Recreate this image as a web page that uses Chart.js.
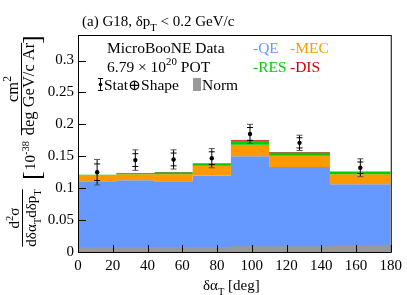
<!DOCTYPE html>
<html>
<head>
<meta charset="utf-8">
<script src="https://cdn.jsdelivr.net/npm/chart.js@4.4.0/dist/chart.umd.min.js"></script>
<style>
  body { margin: 0; background: #fff; }
  canvas { display: block; }
</style>
</head>
<body>
<canvas id="myChart" width="407" height="295"></canvas>
<script>
// bin edges in deg, and the stacked GENIE G18 components per bin
const binEdges = [0, 22, 44, 66, 88, 110, 145, 180];
const qe  = [0.111, 0.1125, 0.111, 0.120, 0.150, 0.133, 0.106];
const mec = [0.009, 0.0095, 0.011, 0.015, 0.018, 0.018, 0.016];
const res = [0.001, 0.0014, 0.003, 0.0036, 0.0054, 0.005, 0.004];
const dis = [0.0002, 0.0003, 0.0003, 0.0005, 0.0016, 0.0005, 0.0003];
const normErr = [0.0075, 0.0075, 0.0078, 0.008, 0.009, 0.009, 0.0105];

// MicroBooNE data points
const dataX = [11, 33, 55, 77, 99, 127.5, 162.5];
const dataY = [0.125, 0.144, 0.145, 0.147, 0.185, 0.171, 0.132];
const errTot = [0.020, 0.016, 0.015, 0.015, 0.015, 0.012, 0.014];
const errStat = [0.013, 0.010, 0.010, 0.010, 0.010, 0.008, 0.009];

const xTicks = [0, 20, 40, 60, 80, 100, 120, 140, 160, 180];
const yTicks = [0, 0.05, 0.1, 0.15, 0.2, 0.25, 0.3];

const FONT = "'Liberation Serif', 'DejaVu Serif', serif";
const BLUE = '#6699ff', ORANGE = '#ff9900', GREEN = '#00cc00', RED = '#cc0000', GREY = '#999999';

// cumulative stack
const cum = [];
let run = qe.slice();
cum.push(run.slice());
[mec, res, dis].forEach(a => { run = run.map((v, i) => v + a[i]); cum.push(run.slice()); });

function steps(vals) {
    return binEdges.map((e, i) => ({ x: e, y: vals[Math.min(i, vals.length - 1)] }));
}

function histSet(vals, color, fill, order) {
    return {
        type: 'line', data: steps(vals), stepped: 'before',
        borderColor: 'rgba(0,0,0,0)', borderWidth: 0, pointRadius: 0,
        backgroundColor: color, fill: fill, order: order
    };
}

// text helpers, runs are {t, s} with s = 'sub' / 'sup' / undefined
function runsWidth(ctx, runs, size) {
    let w = 0;
    runs.forEach(r => {
        ctx.font = (r.s ? size * 0.7 : size) + 'px ' + FONT;
        w += ctx.measureText(r.t).width;
    });
    return w;
}
function drawRuns(ctx, runs, x, y, size, color) {
    ctx.fillStyle = color || '#000';
    ctx.textAlign = 'left';
    ctx.textBaseline = 'alphabetic';
    runs.forEach(r => {
        ctx.font = (r.s ? size * 0.7 : size) + 'px ' + FONT;
        const dy = r.s === 'sub' ? size * 0.3 : r.s === 'sup' ? -size * 0.42 : 0;
        ctx.fillText(r.t, x, y + dy);
        x += ctx.measureText(r.t).width;
    });
}

const decor = {
    id: 'decor',
    afterDatasetsDraw(chart) {
        const ctx = chart.ctx, xs = chart.scales.x, ys = chart.scales.y, a = chart.chartArea;
        ctx.save();
        // error bars
        dataX.forEach((x, i) => {
            const px = xs.getPixelForValue(x);
            const yt = ys.getPixelForValue(dataY[i] + errTot[i]);
            const yb = ys.getPixelForValue(dataY[i] - errTot[i]);
            const st = ys.getPixelForValue(dataY[i] + errStat[i]);
            const sb = ys.getPixelForValue(dataY[i] - errStat[i]);
            ctx.strokeStyle = '#000';
            ctx.lineWidth = 1;
            ctx.beginPath();
            ctx.moveTo(px, yt); ctx.lineTo(px, yb);
            ctx.moveTo(px - 3, st); ctx.lineTo(px + 3, st);
            ctx.moveTo(px - 3, sb); ctx.lineTo(px + 3, sb);
            ctx.stroke();
            ctx.strokeStyle = '#555';
            ctx.beginPath();
            ctx.moveTo(px - 3, yt); ctx.lineTo(px + 3, yt);
            ctx.moveTo(px - 3, yb); ctx.lineTo(px + 3, yb);
            ctx.stroke();
        });
        // inner ticks and frame
        ctx.strokeStyle = '#000';
        ctx.lineWidth = 1;
        ctx.beginPath();
        xTicks.forEach(t => {
            const px = Math.round(xs.getPixelForValue(t)) + 0.5;
            ctx.moveTo(px, a.bottom); ctx.lineTo(px, a.bottom - 7);
        });
        yTicks.forEach(t => {
            const py = Math.round(ys.getPixelForValue(t)) + 0.5;
            ctx.moveTo(a.left, py); ctx.lineTo(a.left + 8, py);
        });
        ctx.stroke();
        ctx.strokeRect(a.left + 0.5, a.top + 0.5, a.right - a.left, a.bottom - a.top);
        ctx.restore();
    },
    afterDraw(chart) {
        const ctx = chart.ctx;
        ctx.save();
        // title
        drawRuns(ctx, [{ t: '(a) G18, δp' }, { t: 'T', s: 'sub' }, { t: ' < 0.2 GeV/c' }], 82, 26, 15);
        // x title
        drawRuns(ctx, [{ t: 'δα' }, { t: 'T', s: 'sub' }, { t: ' [deg]' }], 203, 290, 15);
        // legend block
        const L = 15.5;
        drawRuns(ctx, [{ t: 'MicroBooNE Data' }], 107, 53, L);
        drawRuns(ctx, [{ t: '6.79 × 10' }, { t: '20', s: 'sup' }, { t: ' POT' }], 107, 72, L);
        ctx.strokeStyle = '#000';
        ctx.beginPath();
        ctx.moveTo(100.5, 78); ctx.lineTo(100.5, 91);
        ctx.moveTo(98, 78.5); ctx.lineTo(103, 78.5);
        ctx.moveTo(98, 90.5); ctx.lineTo(103, 90.5);
        ctx.stroke();
        ctx.fillStyle = '#000';
        ctx.beginPath(); ctx.arc(100.5, 84.5, 1.8, 0, Math.PI * 2); ctx.fill();
        drawRuns(ctx, [{ t: 'Stat⊕Shape' }], 104, 90, L);
        ctx.fillStyle = GREY;
        ctx.fillRect(193, 78, 8, 13);
        drawRuns(ctx, [{ t: 'Norm' }], 202, 90, L);
        drawRuns(ctx, [{ t: '-QE' }], 253, 53, L, BLUE);
        drawRuns(ctx, [{ t: '-MEC' }], 290, 53, L, ORANGE);
        drawRuns(ctx, [{ t: '-RES' }], 253, 72, L, GREEN);
        drawRuns(ctx, [{ t: '-DIS' }], 290, 72, L, RED);

        // rotated y title: canvas y = -u, canvas x = v
        ctx.rotate(-Math.PI / 2);
        const S = 15;
        function frac(num, den, cy, vNum, vLine, vDen, size) {
            const wn = runsWidth(ctx, num, size), wd = runsWidth(ctx, den, size);
            const w = Math.max(wn, wd);
            drawRuns(ctx, num, -cy - wn / 2, vNum, size);
            drawRuns(ctx, den, -cy - wd / 2, vDen, size);
            ctx.strokeStyle = '#000';
            ctx.lineWidth = 1;
            ctx.beginPath();
            ctx.moveTo(-cy - w / 2, vLine); ctx.lineTo(-cy + w / 2, vLine);
            ctx.stroke();
        }
        frac([{ t: 'd' }, { t: '2', s: 'sup' }, { t: 'σ' }],
             [{ t: 'dδα' }, { t: 'T', s: 'sub' }, { t: 'dδp' }, { t: 'T', s: 'sub' }],
             218, 19, 22.5, 36, S);
        drawRuns(ctx, [{ t: '[' }], -180, 40, 26);
        drawRuns(ctx, [{ t: '10' }, { t: '-38', s: 'sup' }], -170, 35, S);
        frac([{ t: 'cm' }, { t: '2', s: 'sup' }],
             [{ t: 'deg GeV/c Ar' }],
             89, 18, 21.5, 34, 16.5);
        drawRuns(ctx, [{ t: ']' }], -44, 40, 26);
        ctx.restore();
    }
};

const ctx = document.getElementById('myChart').getContext('2d');
const myChart = new Chart(ctx, {
    type: 'line',
    data: {
        datasets: [
            histSet(cum[0], BLUE, 'origin', 6),
            histSet(cum[1], ORANGE, '-1', 5),
            histSet(cum[2], GREEN, '-1', 4),
            histSet(cum[3], RED, '-1', 3),
            histSet(normErr, GREY, 'origin', 2),
            {
                type: 'scatter',
                data: dataX.map((x, i) => ({ x: x, y: dataY[i] })),
                pointRadius: 2.2, pointBackgroundColor: '#000', pointBorderWidth: 0,
                showLine: false, order: 1
            }
        ]
    },
    options: {
        responsive: false,
        animation: false,
        layout: { padding: { top: 35, right: 12, left: 0, bottom: 0 }, autoPadding: false },
        plugins: { legend: { display: false }, tooltip: { enabled: false } },
        scales: {
            x: {
                type: 'linear', min: 0, max: 180,
                ticks: { stepSize: 20, color: '#000', maxRotation: 0, padding: 5, font: { family: FONT, size: 15 } },
                grid: { display: false, drawTicks: false },
                border: { display: false },
                afterFit(s) { s.height = 43; }
            },
            y: {
                min: 0, max: 0.34,
                ticks: {
                    stepSize: 0.05, includeBounds: false, color: '#000', padding: 4,
                    font: { family: FONT, size: 15 },
                    callback: v => String(+v.toFixed(2))
                },
                grid: { display: false, drawTicks: false },
                border: { display: false },
                afterFit(s) { s.width = 78; }
            }
        }
    },
    plugins: [decor]
});
</script>
</body>
</html>
